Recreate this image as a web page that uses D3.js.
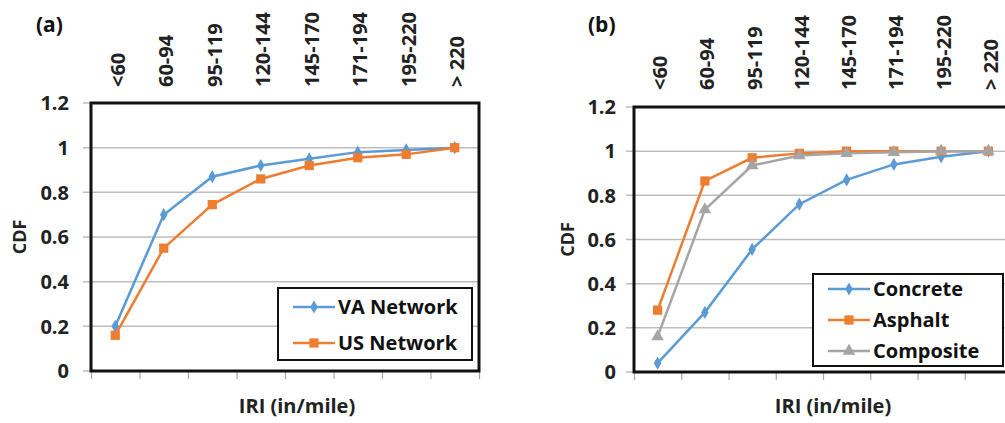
<!DOCTYPE html>
<html>
<head>
<meta charset="utf-8">
<script src="https://cdn.jsdelivr.net/npm/d3@7"></script>
<style>
  html, body { margin: 0; padding: 0; background: #fff; }
  svg { display: block; font-family: "Open Sans", sans-serif; font-weight: bold; }
</style>
</head>
<body>
<div id="chart"></div>
<script>
// categories shared by both panels
const categories = ['<60', '60-94', '95-119', '120-144', '145-170', '171-194', '195-220', '> 220'];
const yTicks = [0, 0.2, 0.4, 0.6, 0.8, 1, 1.2];

// panel (a)
const vaNetwork = [0.20, 0.70, 0.87, 0.92, 0.95, 0.98, 0.99, 1.00];
const usNetwork = [0.16, 0.55, 0.745, 0.86, 0.92, 0.955, 0.97, 1.00];

// panel (b)
const concrete  = [0.04, 0.27, 0.555, 0.76, 0.87, 0.94, 0.975, 1.00];
const asphalt   = [0.28, 0.865, 0.97, 0.99, 1.00, 1.00, 1.00, 1.00];
const composite = [0.16, 0.735, 0.935, 0.98, 0.99, 0.995, 1.00, 1.00];

const blue = '#5b9bd5', orange = '#ed7d31', grey = '#a5a5a5';

const svg = d3.select('#chart').append('svg')
  .attr('width', 1005)
  .attr('height', 423);

function drawPanel(p) {
  const g = svg.append('g');
  const x = d3.scaleBand().domain(categories).range([p.left, p.right]);
  const y = d3.scaleLinear().domain([0, 1.2]).range([p.bottom, p.top]);

  // gridlines (poke out left as ticks)
  g.append('g').selectAll('line').data(yTicks).enter().append('line')
    .attr('x1', p.left - 8).attr('x2', p.right)
    .attr('y1', d => y(d)).attr('y2', d => y(d))
    .attr('stroke', '#bdbdbd').attr('stroke-width', 1.5);

  // y tick labels
  g.append('g').selectAll('text').data(yTicks).enter().append('text')
    .attr('x', p.left - p.labelGap).attr('y', d => y(d))
    .attr('dy', '0.36em')
    .attr('text-anchor', 'end')
    .attr('font-size', 20)
    .attr('fill', '#222')
    .text(d => d);

  // bottom tick marks at band boundaries
  const xb = d3.scaleLinear().domain([0, categories.length]).range([p.left, p.right]);
  g.append('g')
    .attr('transform', `translate(0, ${p.bottom})`)
    .call(d3.axisBottom(xb).ticks(categories.length).tickSize(8).tickFormat(''))
    .call(a => a.select('.domain').remove())
    .call(a => a.selectAll('line').attr('stroke', '#a6a6a6').attr('stroke-width', 1.2));

  // rotated category labels on top
  g.append('g').selectAll('text').data(categories).enter().append('text')
    .attr('transform', d => `translate(${x(d) + x.bandwidth() / 2 + 2}, ${p.labelY}) rotate(-90)`)
    .attr('text-anchor', 'start')
    .attr('dominant-baseline', 'central')
    .attr('font-size', 20)
    .attr('fill', '#222')
    .text(d => d);

  // frame
  g.append('rect')
    .attr('x', p.left).attr('y', p.top)
    .attr('width', p.right - p.left).attr('height', p.bottom - p.top)
    .attr('fill', 'none').attr('stroke', '#111').attr('stroke-width', 3);

  // series
  const line = d3.line()
    .x((d, i) => x(categories[i]) + x.bandwidth() / 2)
    .y(d => y(d));

  p.series.forEach(s => {
    g.append('path').datum(s.values)
      .attr('d', line)
      .attr('fill', 'none')
      .attr('stroke', s.color)
      .attr('stroke-width', 2.5);
    g.append('g').selectAll('path').data(s.values).enter().append('path')
      .attr('transform', (d, i) => `translate(${x(categories[i]) + x.bandwidth() / 2}, ${y(d)})`)
      .attr('d', d3.symbol().type(s.symbol).size(s.size))
      .attr('fill', s.color);
  });

  // legend
  const lg = g.append('g');
  lg.append('rect')
    .attr('x', p.legend.x).attr('y', p.legend.y)
    .attr('width', p.legend.w).attr('height', p.legend.h)
    .attr('fill', '#fff').attr('stroke', '#111').attr('stroke-width', 2);
  p.series.forEach((s, i) => {
    const ly = p.legend.y + p.legend.first + i * p.legend.step;
    lg.append('line')
      .attr('x1', p.legend.x + 15).attr('x2', p.legend.x + 57)
      .attr('y1', ly).attr('y2', ly)
      .attr('stroke', s.color).attr('stroke-width', 2.5);
    lg.append('path')
      .attr('transform', `translate(${p.legend.x + 36}, ${ly})`)
      .attr('d', d3.symbol().type(s.symbol).size(s.size))
      .attr('fill', s.color);
    lg.append('text')
      .attr('x', p.legend.x + 60).attr('y', ly)
      .attr('dy', '0.36em')
      .attr('font-size', 20)
      .attr('fill', '#111')
      .text(s.name);
  });

  // titles
  g.append('text')
    .attr('x', p.tagX).attr('y', 32)
    .attr('font-size', 21)
    .attr('fill', '#111')
    .text(p.tag);

  g.append('text')
    .attr('transform', `translate(${p.cdfX}, ${(p.top + p.bottom) / 2}) rotate(-90)`)
    .attr('text-anchor', 'middle')
    .attr('dominant-baseline', 'central')
    .attr('font-size', 18)
    .attr('fill', '#222')
    .text('CDF');

  g.append('text')
    .attr('x', p.iriX).attr('y', 413)
    .attr('text-anchor', 'middle')
    .attr('font-size', 20)
    .attr('fill', '#222')
    .text('IRI (in/mile)');
}

drawPanel({
  left: 91, right: 479, top: 103, bottom: 371,
  labelGap: 22, labelY: 87, tag: '(a)', tagX: 36, cdfX: 19, iriX: 297,
  legend: { x: 278, y: 288, w: 194, h: 72, first: 19, step: 36 },
  series: [
    { name: 'VA Network', values: vaNetwork, color: blue, symbol: d3.symbolDiamond, size: 50 },
    { name: 'US Network', values: usNetwork, color: orange, symbol: d3.symbolSquare, size: 85 }
  ]
});

drawPanel({
  left: 634, right: 1012, top: 107, bottom: 372,
  labelGap: 18, labelY: 90, tag: '(b)', tagX: 588, cdfX: 567, iriX: 833,
  legend: { x: 813, y: 274, w: 190, h: 92, first: 15, step: 31 },
  series: [
    { name: 'Concrete', values: concrete, color: blue, symbol: d3.symbolDiamond, size: 50 },
    { name: 'Asphalt', values: asphalt, color: orange, symbol: d3.symbolSquare, size: 85 },
    { name: 'Composite', values: composite, color: grey, symbol: d3.symbolTriangle, size: 70 }
  ]
});
</script>
</body>
</html>
